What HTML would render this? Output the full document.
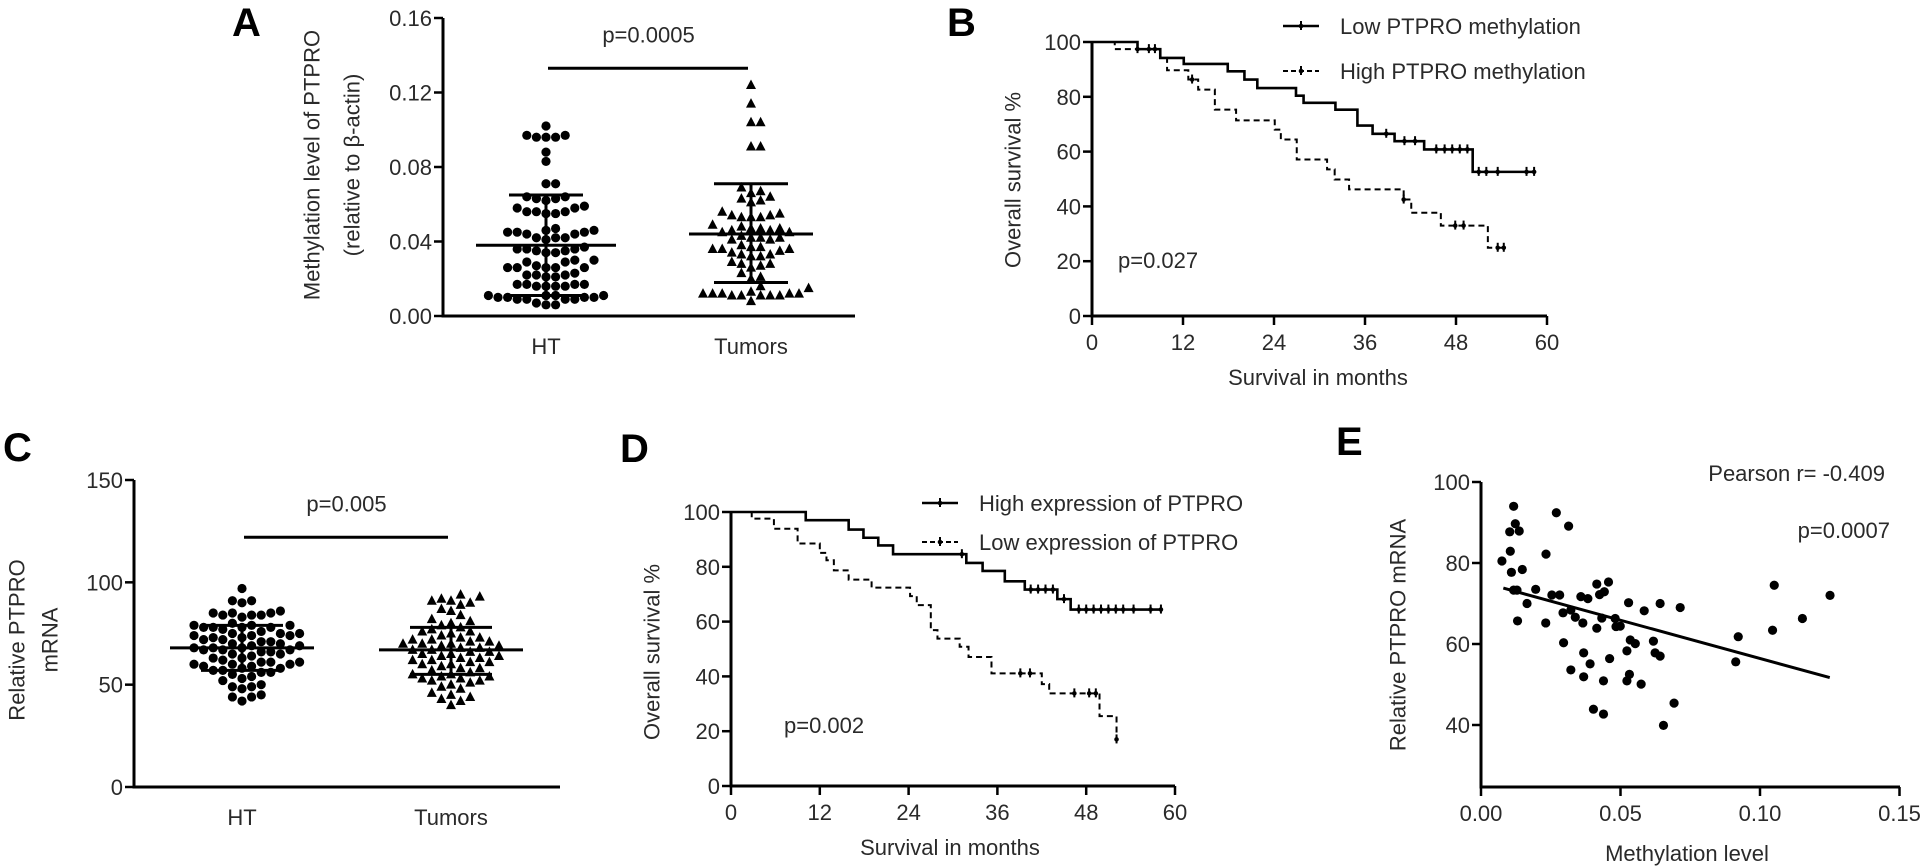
<!DOCTYPE html>
<html><head><meta charset="utf-8"><style>
html,body{margin:0;padding:0;background:#fff;}
svg{display:block;font-family:"Liberation Sans",Arial,sans-serif;}
</style></head><body>
<svg id="fig" width="1923" height="868" viewBox="0 0 1923 868" xmlns="http://www.w3.org/2000/svg">
<g id="gA"></g>
<g id="gB"></g>
<g id="gC"></g>
<g id="gD"></g>
<g id="gE"></g>
</svg>
<script>
// ===== Panel A data =====
const aCategories = ["HT", "Tumors"];
const aYTicks = [0, 0.04, 0.08, 0.12, 0.16];
const aYTickLabels = ["0.00", "0.04", "0.08", "0.12", "0.16"];
const aHT = [0.102,0.097,0.096,0.096,0.096,0.097,0.088,0.083,0.071,0.071,0.064,0.063,0.063,0.062,0.064,0.059,0.058,0.058,0.055,0.055,0.056,0.056,0.056,0.047,0.046,0.045,0.045,0.044,0.044,0.045,0.046,0.042,0.042,0.042,0.041,0.037,0.036,0.036,0.035,0.034,0.034,0.035,0.036,0.030,0.029,0.029,0.030,0.026,0.026,0.026,0.027,0.026,0.026,0.022,0.022,0.021,0.021,0.023,0.022,0.017,0.017,0.016,0.016,0.016,0.017,0.016,0.017,0.011,0.011,0.010,0.010,0.009,0.009,0.011,0.010,0.010,0.011,0.009,0.009,0.006,0.007,0.006];
const aTumors = [0.124,0.114,0.104,0.104,0.091,0.091,0.069,0.067,0.066,0.064,0.063,0.062,0.061,0.056,0.055,0.054,0.054,0.053,0.053,0.053,0.049,0.048,0.047,0.046,0.047,0.046,0.047,0.045,0.045,0.043,0.042,0.042,0.041,0.042,0.041,0.038,0.037,0.036,0.036,0.037,0.036,0.035,0.033,0.032,0.034,0.033,0.032,0.029,0.028,0.027,0.028,0.026,0.023,0.021,0.020,0.016,0.015,0.012,0.012,0.011,0.011,0.012,0.011,0.011,0.012,0.011,0.012,0.013,0.008];
const aMeans = [0.038, 0.044];
const aSdLow = [0.011, 0.018];
const aSdHigh = [0.065, 0.071];
const aSigBar = 0.133;

// ===== Panel B data =====
const bXTicks = [0, 12, 24, 36, 48, 60];
const bYTicks = [0, 20, 40, 60, 80, 100];
const bLowTimes = [6.0, 9.0, 12.1, 17.9, 20.1, 21.8, 26.9, 27.9, 32.1, 35.0, 37.0, 39.9, 43.8, 50.2];
const bLowSurv  = [97.4, 94.2, 92.0, 89.3, 86.3, 83.2, 80.4, 77.8, 75.3, 69.5, 66.5, 63.8, 60.8, 52.6];
const bLowEnd = 58.3;
const bLowCensor = [7.5, 8.3, 38.8, 41.2, 42.6, 45.4, 46.5, 47.5, 48.5, 49.5, 51.0, 52.0, 53.5, 57.3, 58.3];
const bHighTimes = [3.0, 9.0, 9.9, 12.7, 14.0, 16.2, 19.0, 24.1, 24.9, 27.0, 31.0, 32.0, 33.9, 41.1, 42.1, 46.0, 52.2];
const bHighSurv  = [97.4, 94.2, 89.7, 86.3, 82.6, 75.3, 71.4, 68.0, 64.4, 57.1, 53.5, 49.8, 46.2, 42.5, 37.7, 33.0, 24.9];
const bHighEnd = 54.3;
const bHighCensor = [6.0, 13.2, 41.1, 47.9, 49.0, 53.5, 54.3];

// ===== Panel C data =====
const cCategories = ["HT", "Tumors"];
const cYTicks = [0, 50, 100, 150];
const cHT = [97,91,91,90,86,85,85,84,84,84,83,85,80,79,79,78,78,79,78,78,77,76,75,75,75,74,74,73,73,74,72,72,71,71,70,70,69,69,68,68,68,67,67,67,66,66,65,65,64,63,63,62,61,61,61,60,60,60,59,59,58,58,57,57,56,56,55,54,53,52,50,49,49,48,45,44,44,42];
const cTumors = [94,93,92,91,91,90,89,87,86,84,82,81,80,79,78,77,76,76,75,74,73,73,72,72,71,71,70,70,70,69,69,68,68,67,67,66,66,65,65,64,64,63,63,62,62,61,61,60,60,59,58,58,57,56,55,55,54,54,53,53,52,52,51,50,49,48,46,45,44,43,42,40];
const cMeans = [68, 67];
const cSdLow = [57, 55];
const cSdHigh = [79, 78];
const cSigBar = 122;

// ===== Panel D data =====
const dXTicks = [0, 12, 24, 36, 48, 60];
const dYTicks = [0, 20, 40, 60, 80, 100];
const dHighTimes = [10.1, 15.9, 17.9, 19.9, 21.9, 31.8, 34.0, 37.0, 39.7, 44.1, 45.9];
const dHighSurv  = [97.0, 93.6, 90.6, 87.8, 84.6, 81.4, 78.5, 74.7, 71.7, 68.2, 64.4];
const dHighEnd = 58.2;
const dHighCensor = [31.2, 40.5, 41.5, 42.5, 43.5, 45.0, 47.0, 48.0, 49.0, 50.0, 51.0, 52.0, 53.0, 54.4, 56.7, 58.1];
const dLowTimes = [2.8, 5.8, 9.0, 12.0, 12.9, 13.9, 15.9, 19.0, 24.2, 25.1, 27.0, 27.9, 30.9, 32.1, 35.2, 42.0, 43.0, 49.8, 52.1];
const dLowSurv  = [97.6, 93.9, 88.5, 85.1, 82.4, 78.7, 75.3, 72.4, 69.3, 66.0, 56.9, 53.8, 50.8, 47.1, 41.1, 37.2, 33.8, 25.5, 17.0];
const dLowEnd = 52.1;
const dLowCensor = [39.1, 40.4, 46.4, 48.4, 49.3, 52.1];

// ===== Panel E data =====
const eXTicks = [0, 0.05, 0.10, 0.15];
const eXTickLabels = ["0.00", "0.05", "0.10", "0.15"];
const eYTicks = [40, 60, 80, 100];
const eX = [0.0075,0.0103,0.0117,0.0123,0.0137,0.0105,0.0109,0.0117,0.0129,0.0148,0.0131,0.0165,0.0196,0.0233,0.0232,0.0254,0.0270,0.0282,0.0296,0.0294,0.0314,0.0322,0.0322,0.0338,0.0358,0.0365,0.0383,0.0368,0.0391,0.0368,0.0415,0.0415,0.0425,0.0433,0.0442,0.0457,0.0439,0.0439,0.0403,0.0461,0.0481,0.0484,0.0499,0.0523,0.0529,0.0532,0.0523,0.0535,0.0553,0.0574,0.0585,0.0618,0.0624,0.0642,0.0642,0.0654,0.0692,0.0714,0.0913,0.0922,0.1045,0.1051,0.1152,0.1251];
const eY = [80.5,87.7,94.0,89.7,87.9,82.9,77.7,73.3,73.3,78.4,65.7,70.0,73.5,82.2,65.2,72.1,92.4,72.1,60.3,67.7,89.1,53.6,68.4,66.6,71.7,65.2,71.2,57.8,55.1,51.9,74.8,63.9,72.2,66.4,72.9,75.3,50.9,42.7,43.9,56.4,66.3,64.3,64.4,58.3,70.2,52.5,50.9,61.0,60.1,50.1,68.2,60.7,57.8,57.0,70.0,39.9,45.4,69.0,55.6,61.8,63.4,74.5,66.3,72.0];
const eFitX = [0.008, 0.125];
const eFitY = [73.8, 51.7];

// ===== helpers =====
const NS = "http://www.w3.org/2000/svg";
const TXT = "#2a2a2a";
function mk(parent, tag, attrs, text) {
  const el = document.createElementNS(NS, tag);
  for (const k in attrs) el.setAttribute(k, attrs[k]);
  if (text !== undefined) el.textContent = text;
  parent.appendChild(el);
  return el;
}
function lin(d0, d1, r0, r1) { return v => r0 + (v - d0) * (r1 - r0) / (d1 - d0); }

function panelLetter(g, ch, x, y) {
  const t = mk(g, "text", {x: x, y: y, "font-size": 40, "font-weight": "bold", fill: "#000"}, ch);
  
  
}

function yAxis(g, x, y0, y1, ticks, labels, yfn, name) {
  const ax = mk(g, "line", {x1: x, y1: y0 + 1.5, x2: x, y2: y1, stroke: "#000", "stroke-width": 3});
  
  
  ticks.forEach((t, i) => {
    const y = yfn(t);
    mk(g, "line", {x1: x - 9, y1: y, x2: x, y2: y, stroke: "#000", "stroke-width": 2.5});
    const tl = mk(g, "text", {x: x - 11, y: y + 8, "text-anchor": "end", "font-size": 22, fill: TXT}, labels[i]);
    
    
  });
}
function xAxisNum(g, y, x0, x1, ticks, labels, xfn, name) {
  const ax = mk(g, "line", {x1: x0 - 1.5, y1: y, x2: x1, y2: y, stroke: "#000", "stroke-width": 3});
  
  
  ticks.forEach((t, i) => {
    const x = xfn(t);
    mk(g, "line", {x1: x, y1: y, x2: x, y2: y + 9, stroke: "#000", "stroke-width": 2.5});
    const tl = mk(g, "text", {x: x, y: y + 34, "text-anchor": "middle", "font-size": 22, fill: TXT}, labels[i]);
    
    
  });
}
function rotText(g, str, cx, cy, size, name) {
  const t = mk(g, "text", {x: cx, y: cy, "text-anchor": "middle", "font-size": size, fill: TXT,
    transform: "rotate(-90 " + cx + " " + cy + ")", "dominant-baseline": "central"}, str);
  
  
  return t;
}

function swarm(vals, cx, yfn, d) {
  const sorted = vals.slice().sort((a, b) => a - b);
  const placed = [];
  sorted.forEach(v => {
    const y = yfn(v);
    for (let k = 0; k < 60; k++) {
      const off = k === 0 ? 0 : (k % 2 ? 1 : -1) * Math.ceil(k / 2) * d;
      const x = cx + off;
      if (placed.every(p => (p.x - x) ** 2 + (p.y - y) ** 2 >= d * d * 0.92)) { placed.push({x, y}); break; }
    }
  });
  return placed;
}

function dotPanel(g, cfg) {
  const {name, axisX, axisEnd, y0, yfn, cats, catX, groups, means, sdl, sdh, sig, sigText, ticks, tickLabels, markers, meanHalf, sdHalf} = cfg;
  yAxis(g, axisX, y0, yfn(ticks[ticks.length - 1]), ticks, tickLabels, yfn, name);
  const xa = mk(g, "line", {x1: axisX - 1.5, y1: y0, x2: axisEnd, y2: y0, stroke: "#000", "stroke-width": 3});
  
  
  cats.forEach((c, i) => {
    const t = mk(g, "text", {x: catX[i], y: y0 + 38, "text-anchor": "middle", "font-size": 22, fill: TXT}, c);
    
    
    const pts = swarm(groups[i], catX[i], yfn, 9.6);
    pts.forEach(p => {
      let m;
      if (markers[i] === "circle") m = mk(g, "circle", {cx: p.x, cy: p.y, r: 4.6, fill: "#000"});
      else m = mk(g, "polygon", {points: (p.x) + "," + (p.y - 5.5) + " " + (p.x - 5) + "," + (p.y + 4) + " " + (p.x + 5) + "," + (p.y + 4), fill: "#000"});
      
      
    });
    const ym = yfn(means[i]), yl = yfn(sdl[i]), yh = yfn(sdh[i]);
    const mb = mk(g, "line", {x1: catX[i] - meanHalf[i], y1: ym, x2: catX[i] + meanHalf[i], y2: ym, stroke: "#000", "stroke-width": 3});
    
    
    const vb = mk(g, "line", {x1: catX[i], y1: yl, x2: catX[i], y2: yh, stroke: "#000", "stroke-width": 3});
    
    
    [yl, yh].forEach(yy => {
      const sb = mk(g, "line", {x1: catX[i] - sdHalf, y1: yy, x2: catX[i] + sdHalf, y2: yy, stroke: "#000", "stroke-width": 3});
      
      
    });
  });
  const ys = yfn(sig);
  const sl = mk(g, "line", {x1: catX[0] + 2, y1: ys, x2: catX[1] - 3, y2: ys, stroke: "#000", "stroke-width": 3});
  
  
  const st = mk(g, "text", {x: (catX[0] + catX[1]) / 2, y: ys - 26, "text-anchor": "middle", "font-size": 22, fill: TXT}, sigText);
  
  
}

function kmPath(times, surv, end, xfn, yfn) {
  let d = "M" + xfn(0) + "," + yfn(100);
  times.forEach((t, i) => { d += " H" + xfn(t) + " V" + yfn(surv[i]); });
  d += " H" + xfn(end);
  return d;
}
function survAt(times, surv, t) {
  let s = 100;
  times.forEach((tt, i) => { if (tt <= t) s = surv[i]; });
  return s;
}
function kmCurve(g, name, times, surv, end, censor, xfn, yfn, dashed) {
  const p = mk(g, "path", {d: kmPath(times, surv, end, xfn, yfn), fill: "none", stroke: "#000", "stroke-width": dashed ? 2 : 2.6,
    "stroke-dasharray": dashed ? "6,4" : "none"});
  
  
  censor.forEach(t => {
    const x = xfn(t), y = yfn(survAt(times, surv, t));
    const c = mk(g, "line", {x1: x, y1: y - 5, x2: x, y2: y + 4, stroke: "#000", "stroke-width": 2});
    
    
    mk(g, "circle", {cx: x, cy: y, r: 2.3, fill: "#000"});
  });
}
function legendEntry(g, x, y, label, dashed, name) {
  const l = mk(g, "line", {x1: x, y1: y, x2: x + 36, y2: y, stroke: "#000", "stroke-width": dashed ? 2 : 2.6, "stroke-dasharray": dashed ? "5,3" : "none"});
  
  
  mk(g, "line", {x1: x + 18, y1: y - 5, x2: x + 18, y2: y + 4, stroke: "#000", "stroke-width": 2});
  mk(g, "circle", {cx: x + 18, cy: y, r: 2.3, fill: "#000"});
  const t = mk(g, "text", {x: x + 57, y: y + 8, "font-size": 22, fill: TXT}, label);
  
  
}

// ===== Panel A =====
(function () {
  const g = document.getElementById("gA");
  panelLetter(g, "A", 232, 36);
  const yfn = lin(0, 0.16, 316, 18);
  dotPanel(g, {name: "a", axisX: 443, axisEnd: 855, y0: 316, yfn, cats: aCategories, catX: [546, 751],
    groups: [aHT, aTumors], means: aMeans, sdl: aSdLow, sdh: aSdHigh, sig: aSigBar, sigText: "p=0.0005",
    ticks: aYTicks, tickLabels: aYTickLabels, markers: ["circle", "triangle"], meanHalf: [70, 62], sdHalf: 37});
  rotText(g, "Methylation level of PTPRO", 312, 165, 22, "a-y-axis-title");
  rotText(g, "(relative to  \u03B2-actin)", 352, 165, 22, "a-y-axis-subtitle");
})();

// ===== Panel B =====
(function () {
  const g = document.getElementById("gB");
  panelLetter(g, "B", 947, 36);
  const xfn = lin(0, 60, 1092, 1547), yfn = lin(0, 100, 316, 42);
  yAxis(g, 1092, 316, 42, bYTicks, bYTicks.map(String), yfn, "b");
  xAxisNum(g, 316, 1092, 1547, bXTicks, bXTicks.map(String), xfn, "b");
  kmCurve(g, "b-low-methylation-curve", bLowTimes, bLowSurv, bLowEnd, bLowCensor, xfn, yfn, false);
  kmCurve(g, "b-high-methylation-curve", bHighTimes, bHighSurv, bHighEnd, bHighCensor, xfn, yfn, true);
  legendEntry(g, 1283, 26, "Low PTPRO methylation", false, "b-legend-low");
  legendEntry(g, 1283, 71, "High PTPRO methylation", true, "b-legend-high");
  const p = mk(g, "text", {x: 1118, y: 268, "font-size": 22, fill: TXT}, "p=0.027");
  
  
  const xl = mk(g, "text", {x: 1318, y: 385, "text-anchor": "middle", "font-size": 22, fill: TXT}, "Survival in months");
  
  
  rotText(g, "Overall survival %", 1013, 180, 22, "b-y-axis-title");
})();

// ===== Panel C =====
(function () {
  const g = document.getElementById("gC");
  panelLetter(g, "C", 3, 461);
  const yfn = lin(0, 150, 787, 480);
  dotPanel(g, {name: "c", axisX: 134, axisEnd: 560, y0: 787, yfn, cats: cCategories, catX: [242, 451],
    groups: [cHT, cTumors], means: cMeans, sdl: cSdLow, sdh: cSdHigh, sig: cSigBar, sigText: "p=0.005",
    ticks: cYTicks, tickLabels: cYTicks.map(String), markers: ["circle", "triangle"], meanHalf: [72, 72], sdHalf: 41});
  rotText(g, "Relative PTPRO", 17, 640, 22, "c-y-axis-title");
  rotText(g, "mRNA", 50, 640, 22, "c-y-axis-title-line2");
})();

// ===== Panel D =====
(function () {
  const g = document.getElementById("gD");
  panelLetter(g, "D", 620, 462);
  const xfn = lin(0, 60, 731, 1175), yfn = lin(0, 100, 786, 512);
  yAxis(g, 731, 786, 512, dYTicks, dYTicks.map(String), yfn, "d");
  xAxisNum(g, 786, 731, 1175, dXTicks, dXTicks.map(String), xfn, "d");
  kmCurve(g, "d-high-expression-curve", dHighTimes, dHighSurv, dHighEnd, dHighCensor, xfn, yfn, false);
  kmCurve(g, "d-low-expression-curve", dLowTimes, dLowSurv, dLowEnd, dLowCensor, xfn, yfn, true);
  legendEntry(g, 922, 503, "High expression of PTPRO", false, "d-legend-high");
  legendEntry(g, 922, 542, "Low expression of PTPRO", true, "d-legend-low");
  const p = mk(g, "text", {x: 784, y: 733, "font-size": 22, fill: TXT}, "p=0.002");
  
  
  const xl = mk(g, "text", {x: 950, y: 855, "text-anchor": "middle", "font-size": 22, fill: TXT}, "Survival in months");
  
  
  rotText(g, "Overall survival %", 652, 652, 22, "d-y-axis-title");
})();

// ===== Panel E =====
(function () {
  const g = document.getElementById("gE");
  panelLetter(g, "E", 1336, 455);
  const xfn = lin(0, 0.10, 1481, 1760), yfn = lin(40, 100, 725, 482);
  yAxis(g, 1481, 787, 482, eYTicks, eYTicks.map(String), yfn, "e");
  xAxisNum(g, 787, 1481, 1900, eXTicks, eXTickLabels, xfn, "e");
  eX.forEach((v, i) => {
    const c = mk(g, "circle", {cx: xfn(v), cy: yfn(eY[i]), r: 4.6, fill: "#000"});
    
    
  });
  const fl = mk(g, "line", {x1: xfn(eFitX[0]), y1: yfn(eFitY[0]), x2: xfn(eFitX[1]), y2: yfn(eFitY[1]), stroke: "#000", "stroke-width": 3});
  
  
  const t1 = mk(g, "text", {x: 1885, y: 481, "text-anchor": "end", "font-size": 22, fill: TXT}, "Pearson r= -0.409");
  
  
  const t2 = mk(g, "text", {x: 1890, y: 538, "text-anchor": "end", "font-size": 22, fill: TXT}, "p=0.0007");
  
  
  const xl = mk(g, "text", {x: 1687, y: 861, "text-anchor": "middle", "font-size": 22, fill: TXT}, "Methylation level");
  
  
  rotText(g, "Relative PTPRO mRNA", 1398, 635, 22, "e-y-axis-title");
})();
</script>
</body></html>
